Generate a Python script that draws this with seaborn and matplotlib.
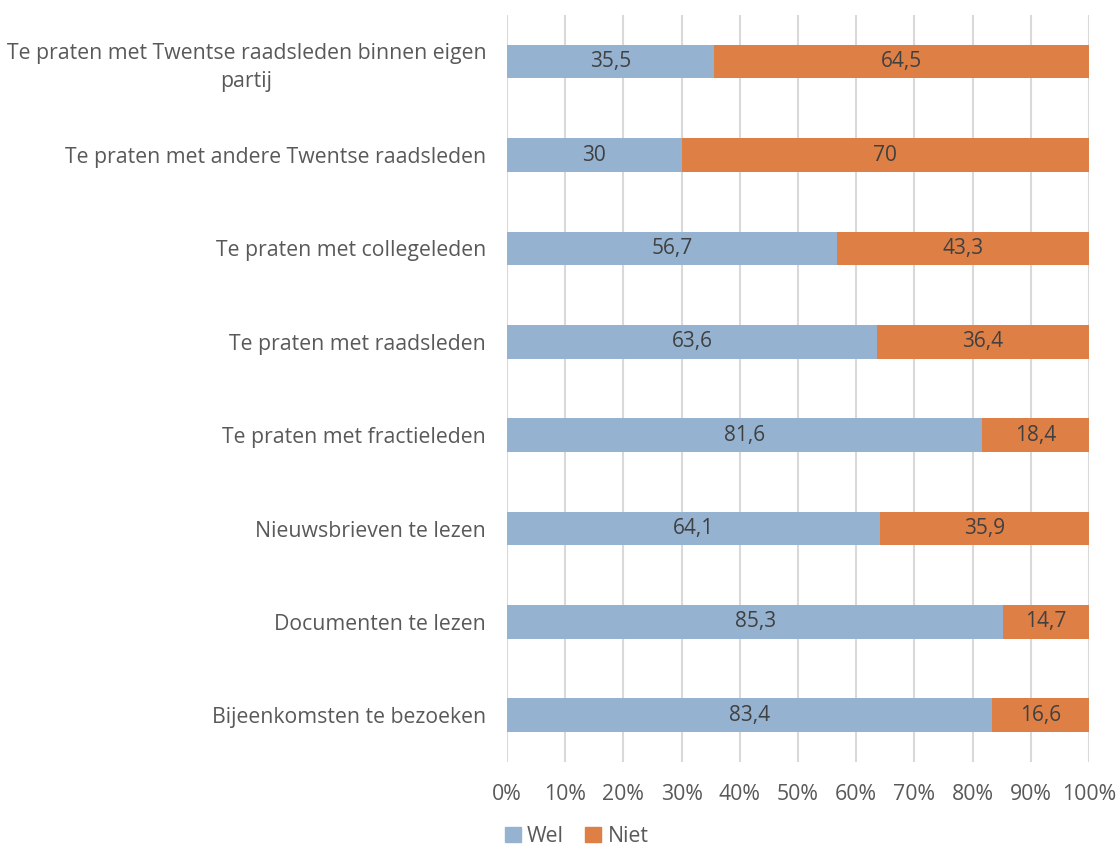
import seaborn as sns
import pandas as pd
import matplotlib.pyplot as plt
from matplotlib.patches import Patch

categories = [
    "Te praten met Twentse raadsleden binnen eigen\npartij",
    "Te praten met andere Twentse raadsleden",
    "Te praten met collegeleden",
    "Te praten met raadsleden",
    "Te praten met fractieleden",
    "Nieuwsbrieven te lezen",
    "Documenten te lezen",
    "Bijeenkomsten te bezoeken",
]
wel = [35.5, 30, 56.7, 63.6, 81.6, 64.1, 85.3, 83.4]
niet = [64.5, 70, 43.3, 36.4, 18.4, 35.9, 14.7, 16.6]

blue = "#95B3D0"
orange = "#DE7F46"
grey = "#595959"

sns.set_theme(style="white")
plt.rcParams["font.family"] = ["Open Sans", "DejaVu Sans"]

fig = plt.figure(figsize=(11.2, 8.55), dpi=100)
ax = fig.add_axes([0.4527, 0.1088, 0.5196, 0.8737])

df = pd.DataFrame({"cat": categories, "wel": wel, "niet": niet})
df["total"] = df["wel"] + df["niet"]

# total first (orange), then wel on top (blue)
sns.barplot(data=df, y="cat", x="total", color=orange, saturation=1,
            width=0.36, orient="h", ax=ax, zorder=2, linewidth=0)
sns.barplot(data=df, y="cat", x="wel", color=blue, saturation=1,
            width=0.36, orient="h", ax=ax, zorder=3, linewidth=0)

for i, (w, n) in enumerate(zip(wel, niet)):
    ax.text(w / 2, i, str(w).replace(".", ","), ha="center", va="center",
            fontsize=15, color="#404040", zorder=4)
    ax.text(w + n / 2, i, str(n).replace(".", ","), ha="center", va="center",
            fontsize=15, color="#404040", zorder=4)

ax.set_xlim(0, 100)
ax.set_ylim(7.5, -0.5)
ax.set_xticks(range(0, 101, 10))
ax.set_xticklabels([f"{t}%" for t in range(0, 101, 10)])
ax.xaxis.grid(True, color="#D9D9D9", linewidth=1.5, zorder=0)
ax.set_axisbelow(True)
for s in ax.spines.values():
    s.set_visible(False)
ax.set_xlabel("")
ax.set_ylabel("")
ax.tick_params(axis="x", labelsize=15.3, colors=grey, pad=16, length=0)
ax.tick_params(axis="y", labelsize=15.3, colors=grey, pad=15, length=0)
for lbl in ax.get_yticklabels():
    lbl.set_multialignment("center")
    lbl.set_linespacing(1.45)

handles = [Patch(color=blue, label="Wel"), Patch(color=orange, label="Niet")]
leg = fig.legend(handles=handles, loc="lower center", bbox_to_anchor=(0.515, -0.013),
                 ncol=2, frameon=False, fontsize=15.3, handlelength=0.75,
                 handleheight=0.75, handletextpad=0.3, columnspacing=1.0)
for t in leg.get_texts():
    t.set_color(grey)

fig.savefig("out.png", dpi=100)
